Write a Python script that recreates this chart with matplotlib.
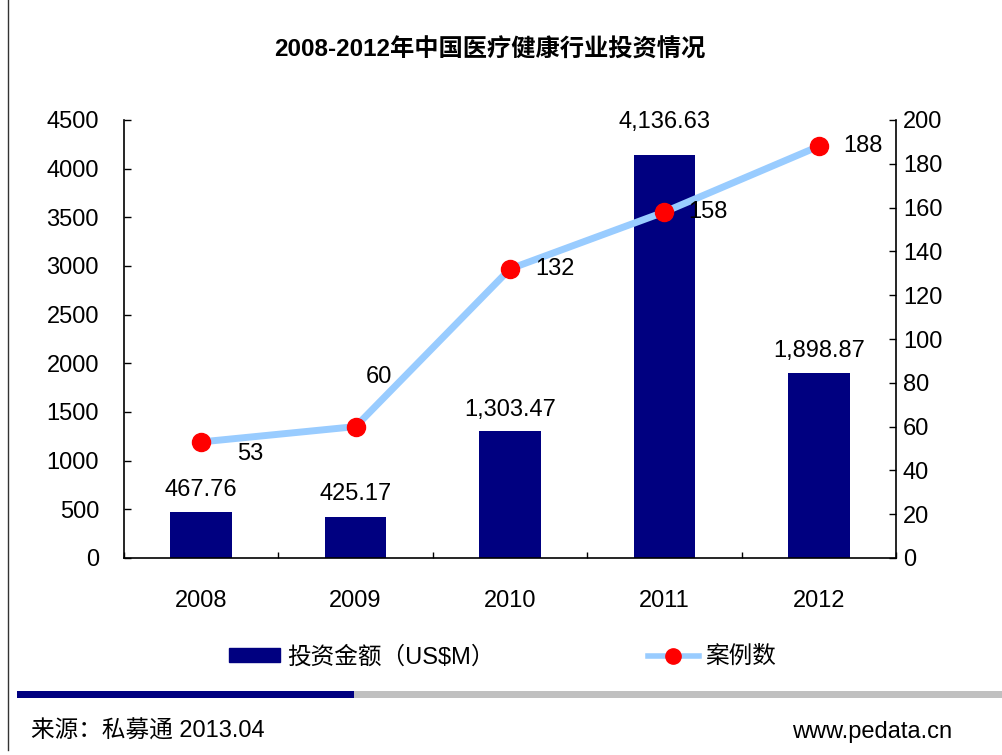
import matplotlib
matplotlib.use('Agg')
import matplotlib.pyplot as plt
from matplotlib.patches import Rectangle
from matplotlib.lines import Line2D
import numpy as np

years = ['2008', '2009', '2010', '2011', '2012']
amount = [467.76, 425.17, 1303.47, 4136.63, 1898.87]
amount_labels = ['467.76', '425.17', '1,303.47', '4,136.63', '1,898.87']
cases = [53, 60, 132, 158, 188]

title = '2008-2012年中国医疗健康行业投资情况'
bar_name = '投资金额（US$M）'
line_name = '案例数'
source = '来源：私募通 2013.04'
site = 'www.pedata.cn'

FAM = ['Liberation Sans', 'Noto Sans CJK SC']
plt.rcParams['font.family'] = FAM

navy = '#000080'
lightblue = '#99CCFF'
fs = 17

fig = plt.figure(figsize=(10.03, 7.55), dpi=100)
ax = fig.add_axes([124 / 1003, 1 - 558 / 755, 772 / 1003, 438 / 755])
ax2 = ax.twinx()

x = np.arange(len(years))
ax.bar(x, amount, width=0.4, color=navy, zorder=2)
ax.set_xlim(-0.5, 4.5)
ax.set_ylim(0, 4500)
ax.set_yticks(np.arange(0, 4501, 500))
ax.set_xticks(x)
ax.set_xticklabels(years)
ax.set_xticks(np.arange(-0.5, 5, 1), minor=True)
ax.tick_params(axis='x', which='major', length=0, pad=23, labelsize=fs)
ax.tick_params(axis='x', which='minor', direction='in', length=4, width=1)
ax.tick_params(axis='y', direction='in', length=5, width=1, pad=18, labelsize=fs)

ax2.plot(x, cases, color=lightblue, lw=5, marker='o', ms=13,
         mfc='red', mec='red', zorder=3)
ax2.set_ylim(0, 200)
ax2.set_yticks(np.arange(0, 201, 20))
ax2.tick_params(axis='y', direction='in', length=5, width=1, pad=5, labelsize=fs)

for a in (ax, ax2):
    a.spines['top'].set_visible(False)
    for s in a.spines.values():
        s.set_linewidth(1.2)
ax.spines['right'].set_visible(False)
ax2.spines['left'].set_visible(False)
ax2.spines['bottom'].set_visible(False)

# bar value labels
bar_off = [16, 16, 15, 24, 16]
for i, v in enumerate(amount):
    ax.annotate(amount_labels[i], (x[i], v), xytext=(0, bar_off[i]),
                textcoords='offset points', ha='center', va='center',
                fontsize=fs)

# line value labels
line_off = [(35, -9), (17, 36), (32, 0), (31, 0), (32, 0)]
for i, v in enumerate(cases):
    ax2.annotate(str(v), (x[i], v), xytext=line_off[i],
                 textcoords='offset points', ha='center', va='center',
                 fontsize=fs)

fig.text(490 / 1003, 1 - 50 / 755, title, ha='center', va='center',
         fontsize=17.5, fontweight='bold')

handles = [Rectangle((0, 0), 1, 1, color=navy),
           Line2D([0], [0], color=lightblue, lw=4, marker='o', ms=11,
                  mfc='red', mec='red')]
fig.legend(handles, [bar_name, line_name], loc='center left',
           bbox_to_anchor=(229 / 1003, 1 - 657 / 755), ncol=2, frameon=False,
           fontsize=fs, borderpad=0, borderaxespad=0, handlelength=2.15,
           handleheight=0.55, handletextpad=0.3, columnspacing=6.5,
           numpoints=1)

# footer band
fig.add_artist(Rectangle((17 / 1003, 1 - 698 / 755), (354 - 17) / 1003, 7 / 755,
                         transform=fig.transFigure, color=navy, lw=0))
fig.add_artist(Rectangle((354 / 1003, 1 - 698 / 755), (1003 - 354) / 1003, 7 / 755,
                         transform=fig.transFigure, color='#C0C0C0', lw=0))
fig.add_artist(Line2D([8 / 1003, 8 / 1003], [1 - 750 / 755, 1], color='#333333',
                      lw=1, transform=fig.transFigure))

fig.text(31 / 1003, 1 - 732 / 755, source, ha='left', va='center', fontsize=fs)
fig.text(952 / 1003, 1 - 732 / 755, site, ha='right', va='center', fontsize=fs)

fig.savefig('out.png', dpi=100)
